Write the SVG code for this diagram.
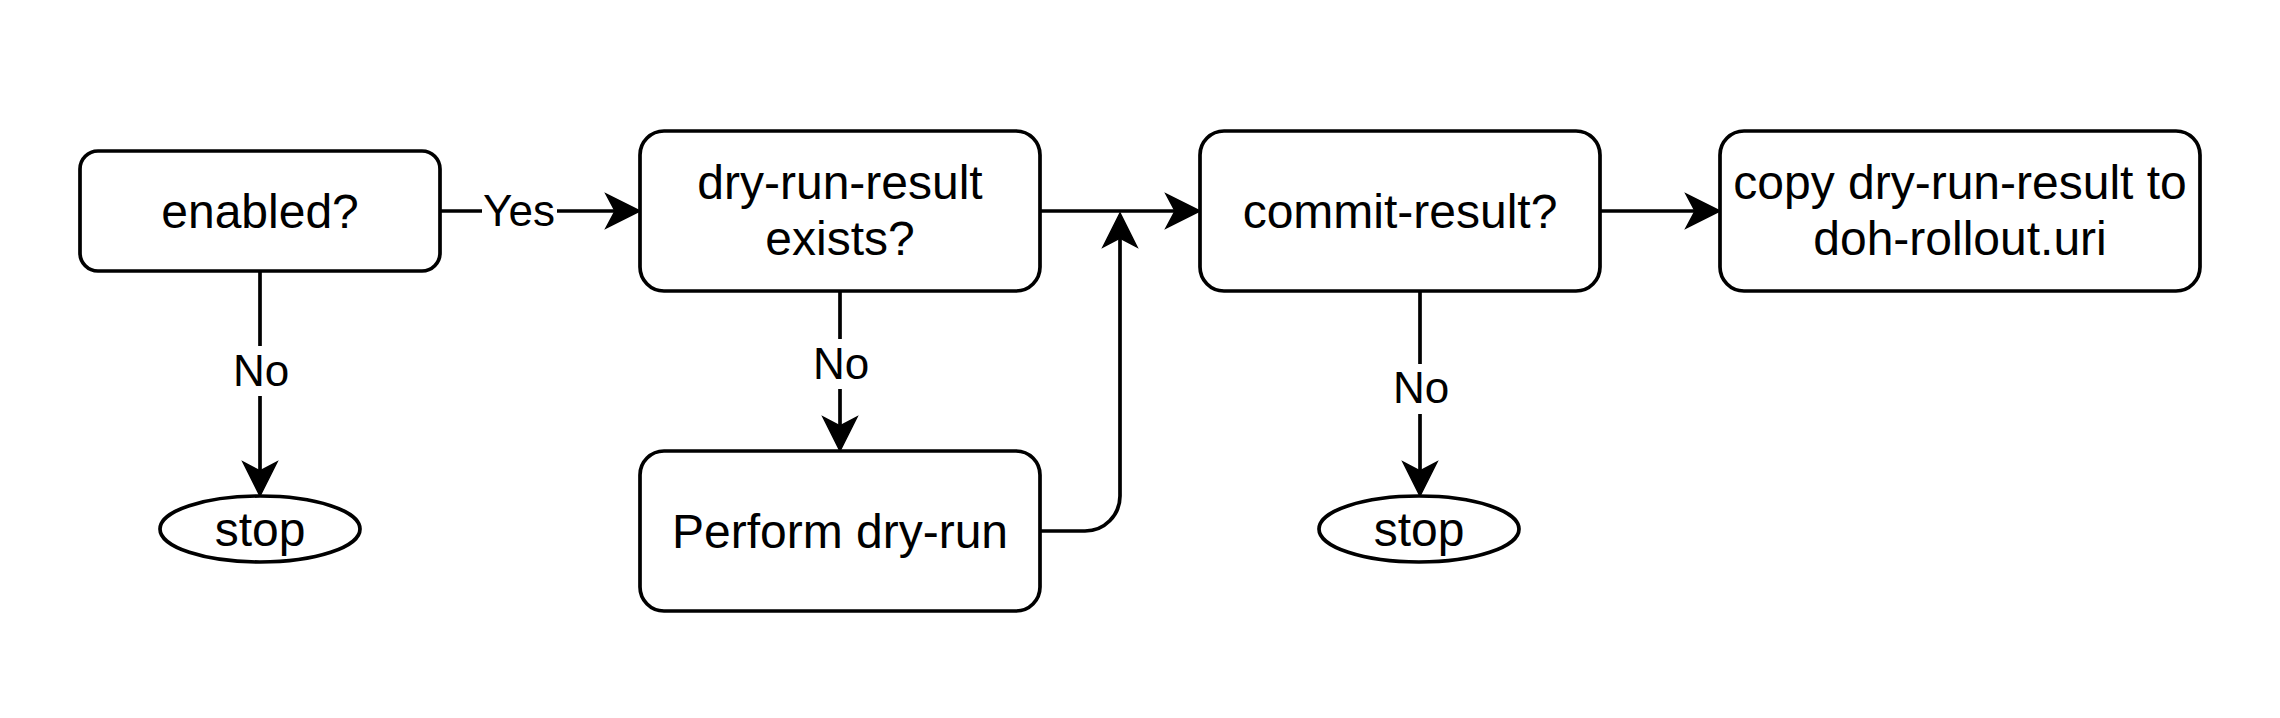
<svg xmlns="http://www.w3.org/2000/svg" width="2280" height="718" viewBox="0 0 2280 718">
<style>
.box{fill:#fff;stroke:#000;stroke-width:3.7}
.t{font-family:"Liberation Sans",Arial,Helvetica,sans-serif;font-size:48px;fill:#000;text-anchor:middle}
.lbl{font-family:"Liberation Sans",Arial,Helvetica,sans-serif;font-size:44px;fill:#000;text-anchor:middle}
.e{fill:none;stroke:#000;stroke-width:3.7}
.bg{fill:#fff}
</style>
<defs>
<marker id="arr" markerUnits="userSpaceOnUse" markerWidth="40" markerHeight="40" refX="0" refY="0" orient="auto" overflow="visible">
<path d="M25,0 L-9,-17 L0,0 L-9,17 Z" fill="#000" stroke="#000" stroke-width="1.5" stroke-linejoin="miter"/>
</marker>
</defs>
<rect width="2280" height="718" fill="#fff"/>
<g id="connectors">
<path class="e" d="M440,211 H615" marker-end="url(#arr)"/>
<rect class="bg" x="482" y="186" width="75" height="50"/>
<text class="lbl" x="519" y="226">Yes</text>
<path class="e" d="M260,271 V471" marker-end="url(#arr)"/>
<rect class="bg" x="231" y="346" width="58" height="50"/>
<text class="lbl" x="261" y="386">No</text>
<path class="e" d="M840,291 V426" marker-end="url(#arr)"/>
<rect class="bg" x="811" y="339" width="58" height="50"/>
<text class="lbl" x="841" y="379">No</text>
<path class="e" d="M1040,211 H1175" marker-end="url(#arr)"/>
<path class="e" d="M1040,531 H1085 A35,35 0 0 0 1120,496 V238" marker-end="url(#arr)"/>
<path class="e" d="M1420,291 V471" marker-end="url(#arr)"/>
<rect class="bg" x="1391" y="364" width="58" height="50"/>
<text class="lbl" x="1421" y="403">No</text>
<path class="e" d="M1600,211 H1695" marker-end="url(#arr)"/>
</g>
<g id="enabled">
<rect class="box" x="80" y="151" width="360" height="120" rx="18"/>
<text class="t" x="260" y="228">enabled?</text>
</g>
<g id="dryRunExists">
<rect class="box" x="640" y="131" width="400" height="160" rx="24"/>
<text class="t" x="840" y="199">dry-run-result</text>
<text class="t" x="840" y="255">exists?</text>
</g>
<g id="commitResult">
<rect class="box" x="1200" y="131" width="400" height="160" rx="24"/>
<text class="t" x="1400" y="228">commit-result?</text>
</g>
<g id="copy">
<rect class="box" x="1720" y="131" width="480" height="160" rx="24"/>
<text class="t" x="1960" y="199">copy dry-run-result to</text>
<text class="t" x="1960" y="255">doh-rollout.uri</text>
</g>
<g id="performDryRun">
<rect class="box" x="640" y="451" width="400" height="160" rx="24"/>
<text class="t" x="840" y="548">Perform dry-run</text>
</g>
<g id="stop1">
<ellipse class="box" cx="260" cy="529" rx="100" ry="33"/>
<text class="t" x="260" y="546">stop</text>
</g>
<g id="stop2">
<ellipse class="box" cx="1419" cy="529" rx="100" ry="33"/>
<text class="t" x="1419" y="546">stop</text>
</g>
</svg>
